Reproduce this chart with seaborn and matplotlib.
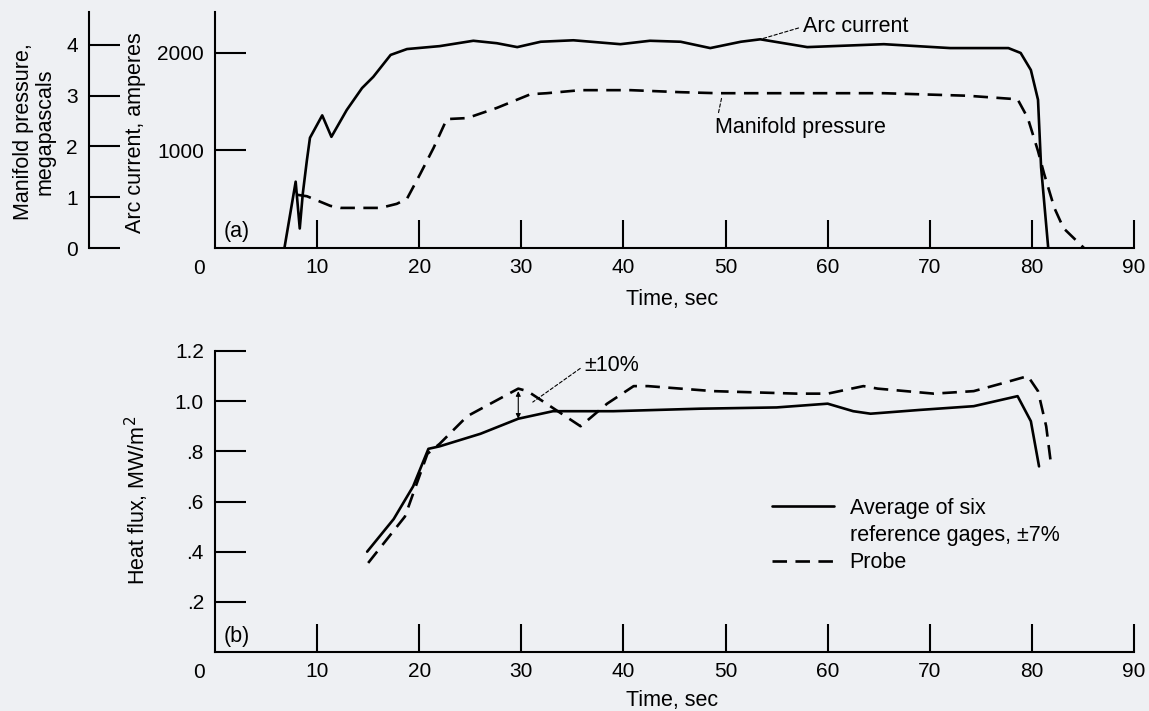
import numpy as np
import seaborn as sns
import matplotlib.pyplot as plt
from matplotlib.lines import Line2D

# (a) arc current, amperes
arc_t = [6.8, 7.9, 8.3, 8.6, 9.0, 9.3, 10.5, 11.4, 12.9, 14.4, 15.5, 17.2, 18.8, 22.0,
         25.3, 27.6, 29.6, 31.9, 35.1, 39.7, 42.6, 45.6, 48.5, 51.5, 53.4, 58.0, 65.5,
         72.0, 77.7, 78.9, 79.9, 80.6, 80.9, 81.6]
arc_amps = [0, 680, 200, 560, 900, 1130, 1360, 1140, 1415, 1640, 1755, 1980, 2040, 2070,
            2125, 2100, 2060, 2115, 2130, 2090, 2125, 2115, 2050, 2115, 2140, 2060, 2090,
            2050, 2050, 2000, 1825, 1520, 830, 0]

# (a) manifold pressure, MPa
press_t = [8.0, 9.0, 11.3, 12.3, 16.2, 17.8, 18.8, 20.1, 21.4, 22.7, 24.7, 27.6, 30.9,
           32.5, 35.8, 40.7, 45.6, 49.2, 65.5, 73.7, 78.6, 79.6, 80.6, 81.2, 82.2, 83.1, 85.1]
press_mpa = [1.05, 1.02, 0.83, 0.79, 0.79, 0.87, 0.97, 1.46, 1.97, 2.54, 2.56, 2.76, 3.03,
             3.05, 3.11, 3.11, 3.07, 3.05, 3.05, 3.0, 2.93, 2.56, 1.91, 1.46, 0.79, 0.39, 0]

# (b) heat flux, MW/m2
avg_t = [14.9, 17.5, 19.4, 20.9, 22.0, 26.0, 29.7, 33.1, 39.0, 47.5, 55.0, 60.0, 62.5,
         64.2, 69.0, 74.3, 78.6, 79.9, 80.7]
avg_flux = [0.40, 0.53, 0.66, 0.81, 0.82, 0.87, 0.93, 0.96, 0.96, 0.97, 0.975, 0.99, 0.96,
            0.95, 0.965, 0.98, 1.02, 0.92, 0.74]
probe_t = [15.0, 18.6, 20.8, 22.0, 24.7, 29.7, 30.6, 35.8, 38.4, 41.0, 42.4, 48.8, 57.0,
           60.0, 63.5, 64.9, 70.4, 74.3, 77.0, 79.6, 80.6, 81.4, 81.9]
probe_flux = [0.355, 0.54, 0.79, 0.83, 0.94, 1.05, 1.04, 0.90, 0.99, 1.06, 1.06, 1.04, 1.03,
              1.03, 1.06, 1.05, 1.03, 1.04, 1.07, 1.10, 1.04, 0.90, 0.74]

time_ticks = [0, 10, 20, 30, 40, 50, 60, 70, 80, 90]
arc_ticks = [1000, 2000]
press_ticks = [0, 1, 2, 3, 4]
flux_ticks = [0.2, 0.4, 0.6, 0.8, 1.0, 1.2]
flux_labels = ['.2', '.4', '.6', '.8', '1.0', '1.2']

sns.set_theme(style='ticks')
plt.rcParams['font.family'] = ['Liberation Sans', 'DejaVu Sans']
plt.rcParams['axes.linewidth'] = 1.5
plt.rcParams['text.color'] = 'black'
plt.rcParams['axes.labelcolor'] = 'black'
plt.rcParams['xtick.color'] = 'black'
plt.rcParams['ytick.color'] = 'black'
bg = '#eef0f3'
W, H = 1149, 711

fig = plt.figure(figsize=(11.49, 7.11), dpi=100, facecolor=bg)
ax_a = fig.add_axes([215 / W, 1 - 248 / H, 919 / W, 236 / H])
ax_b = fig.add_axes([215 / W, 1 - 652 / H, 919 / W, 301 / H])
ax_p = ax_a.twinx()

solid = dict(color='black', lw=1.9)
dashed = dict(color='black', lw=1.9, linestyle=(0, (5.5, 3.2)))
sns.lineplot(x=arc_t, y=arc_amps, ax=ax_a, sort=False, estimator=None, **solid)
sns.lineplot(x=press_t, y=press_mpa, ax=ax_p, sort=False, estimator=None, **dashed)
sns.lineplot(x=avg_t, y=avg_flux, ax=ax_b, sort=False, estimator=None, **solid)
sns.lineplot(x=probe_t, y=probe_flux, ax=ax_b, sort=False, estimator=None, **dashed)

tick_kw = dict(direction='in', width=1.5, colors='black', labelsize=15)
for ax in (ax_a, ax_b):
    ax.set_facecolor('none')
    ax.set_xlim(0, 90)
    ax.set_xticks(time_ticks[1:])
    ax.tick_params(axis='x', length=20, pad=7, **tick_kw)
    ax.tick_params(axis='y', length=22, pad=8, **tick_kw)
    for s in ('top', 'right'):
        ax.spines[s].set_visible(False)
    for s in ('left', 'bottom'):
        ax.spines[s].set_color('black')
    ax.set_xlabel('Time, sec', fontsize=15.5, color='black')
    ax.text(-0.017, 0, '0', transform=ax.transAxes, fontsize=15, ha='center', va='top')

ax_a.xaxis.set_label_coords(0.497, -0.175)
ax_b.xaxis.set_label_coords(0.497, -0.125)
ax_a.texts[-1].set_y(-0.045)
ax_b.texts[-1].set_y(-0.035)

ax_a.set_ylim(0, 2420)
ax_a.set_yticks(arc_ticks)
ax_a.set_ylabel('')

ax_p.set_ylim(0, 4.65)
ax_p.set_yticks(press_ticks)
ax_p.set_facecolor('none')
for s in ('top', 'right', 'bottom'):
    ax_p.spines[s].set_visible(False)
ax_p.spines['left'].set_visible(True)
ax_p.spines['left'].set_color('black')
ax_p.spines['left'].set_position(('axes', -126 / 919))
ax_p.yaxis.set_ticks_position('left')
ax_p.tick_params(axis='y', length=22, pad=8, **tick_kw)
ax_p.set_ylabel('')

ax_b.set_ylim(0, 1.2)
ax_b.set_yticks(flux_ticks, flux_labels)
ax_b.set_ylabel('')

fig.text(136 / W, 1 - 133 / H, 'Arc current, amperes', rotation=90, ha='center',
         va='center', fontsize=15.5)
fig.text(34 / W, 1 - 132 / H, 'Manifold pressure,\nmegapascals', rotation=90,
         ha='center', va='center', fontsize=15.5, multialignment='center', linespacing=1.05)
fig.text(137 / W, 1 - 500 / H, 'Heat flux, MW/m$^2$', rotation=90, ha='center',
         va='center', fontsize=15.5)

ax_a.text(0.009, 0.068, '(a)', transform=ax_a.transAxes, fontsize=15.5, va='center')
ax_b.text(0.009, 0.05, '(b)', transform=ax_b.transAxes, fontsize=15.5, va='center')

lead = dict(arrowstyle='-', color='black', lw=0.8, linestyle=(0, (3, 2)), shrinkA=1, shrinkB=2)
ax_a.annotate('Arc current', xy=(53.4, 2140), xytext=(57.6, 2270), fontsize=15.5,
              va='center', ha='left', arrowprops=dict(relpos=(0, 0.5), **lead))
ax_p.annotate('Manifold pressure', xy=(49.7, 3.04), xytext=(49.0, 2.37), fontsize=15.5,
              va='center', ha='left', arrowprops=dict(relpos=(0, 0.5), **lead))

# +/-10% marker at the probe peak
i_pk = int(np.argmax(probe_flux[:8]))
t_pk = probe_t[i_pk]
ax_b.annotate('', xy=(t_pk, np.interp(t_pk, avg_t, avg_flux)), xytext=(t_pk, probe_flux[i_pk] - 0.01),
              arrowprops=dict(arrowstyle='<|-|>', color='black', lw=0.8, mutation_scale=7,
                              shrinkA=0, shrinkB=0))
ax_b.annotate('±10%', xy=(30.9, 0.99), xytext=(36.2, 1.143), fontsize=15.5,
              va='center', ha='left', arrowprops=dict(relpos=(0, 0.5), **lead))

handles = [Line2D([], [], **solid), Line2D([], [], color='none'), Line2D([], [], **dashed)]
labels = ['Average of six', 'reference gages, ±7%', 'Probe']
fig.legend(handles, labels, loc='upper left', bbox_to_anchor=(772 / W, 1 - 498 / H),
           frameon=False, fontsize=15.5, handlelength=2.9, handletextpad=0.7,
           labelspacing=0.28, borderpad=0, borderaxespad=0)

fig.savefig('out.png', dpi=100, facecolor=bg)
